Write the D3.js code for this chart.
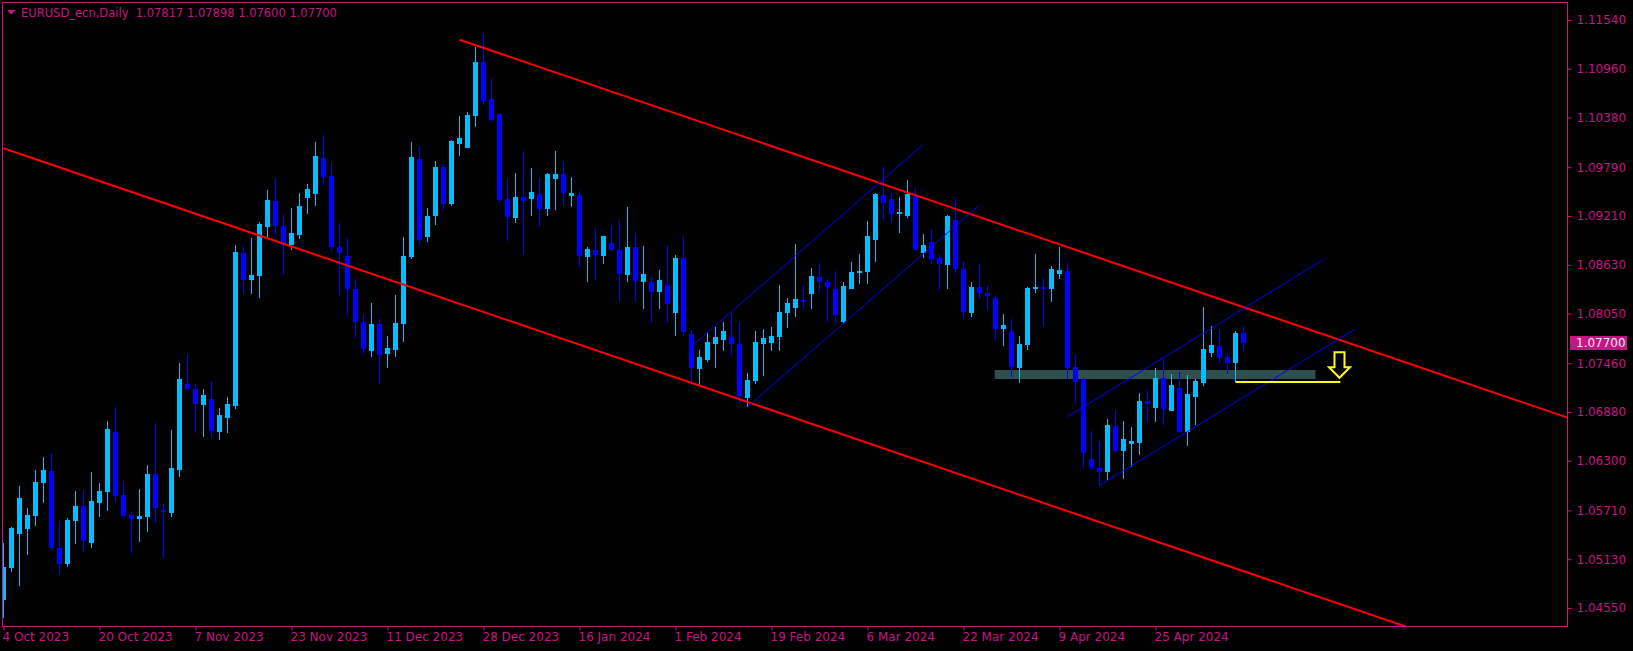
<!DOCTYPE html>
<html><head><meta charset="utf-8">
<script src="https://cdn.jsdelivr.net/npm/d3@7"></script>
<style>html,body{margin:0;padding:0;background:#000;overflow:hidden}</style>
</head><body>
<svg id="chart" width="1633" height="651"></svg>
<script>
const symbolName = "EURUSD_ecn,Daily";
const opens = [1.04644,1.05025,1.05428,1.05488,1.05643,1.06035,1.06178,1.05262,1.05072,1.05583,
1.05762,1.05321,1.05797,1.05928,1.06641,1.05893,1.05655,1.05607,1.05631,1.06142,
1.05714,1.05678,1.06190,1.07212,1.07153,1.06963,1.07034,1.06641,1.06808,1.06951,
1.08769,1.08449,1.08497,1.09079,1.09388,1.09091,1.08865,1.08984,1.09424,1.09471,
1.09899,1.09686,1.08841,1.08734,1.08342,1.07949,1.07604,1.07925,1.07568,1.07616,
1.07925,1.08722,1.09887,1.08960,1.09210,1.09792,1.09352,1.10065,1.10018,1.10399,
1.11041,1.10601,1.10422,1.09412,1.09186,1.09436,1.09412,1.09471,1.09293,1.09650,
1.09709,1.09448,1.09459,1.08722,1.08805,1.08734,1.08888,1.08805,1.08509,1.08841,
1.08425,1.08425,1.08306,1.08389,1.08056,1.08710,1.07806,1.07391,1.07498,1.07687,
1.07735,1.07771,1.07687,1.07046,1.07248,1.07687,1.07699,1.07771,1.08056,1.08116,
1.08211,1.08282,1.08485,1.08425,1.08342,1.07949,1.08342,1.08532,1.08544,1.08924,
1.09459,1.09412,1.09233,1.09210,1.09448,1.08769,1.08900,1.08710,1.08627,1.09162,
1.08580,1.08056,1.08365,1.08294,1.08235,1.07866,1.07842,1.07402,1.07676,1.08342,
1.08365,1.08342,1.08520,1.08556,1.07414,1.07272,1.06320,1.06213,1.06166,1.06713,
1.06415,1.06498,1.06510,1.07010,1.06927,1.07284,1.06891,1.07165,1.06641,1.07058,
1.07224,1.07580,1.07664,1.07533,1.07462,1.07817];
const highs = [1.05321,1.05512,1.06000,1.05738,1.06190,1.06344,1.06391,1.05583,1.05619,1.05940,
1.05940,1.06166,1.06035,1.06772,1.06939,1.06059,1.05690,1.05964,1.06250,1.06748,
1.05797,1.06665,1.07462,1.07557,1.07212,1.07153,1.07248,1.06927,1.07058,1.08865,
1.08853,1.08948,1.09138,1.09519,1.09650,1.09222,1.09305,1.09483,1.09590,1.10089,
1.10173,1.09839,1.09126,1.08948,1.08473,1.08044,1.08175,1.07997,1.07783,1.08271,
1.08960,1.10089,1.10030,1.09305,1.09864,1.09828,1.10113,1.10399,1.10446,1.11219,
1.11385,1.10839,1.10434,1.09650,1.09721,1.09982,1.09780,1.09662,1.09721,1.09982,
1.09864,1.09674,1.09507,1.08841,1.09067,1.08972,1.09091,1.09162,1.09317,1.09007,
1.08853,1.08497,1.08568,1.08865,1.08746,1.08972,1.07854,1.07616,1.07830,1.07890,
1.07949,1.08056,1.07949,1.07343,1.07842,1.07866,1.07890,1.08389,1.08235,1.08876,
1.08389,1.08591,1.08650,1.08461,1.08556,1.08425,1.08663,1.08758,1.09150,1.09483,
1.09805,1.09471,1.09436,1.09638,1.09543,1.08995,1.09055,1.08758,1.09222,1.09424,
1.08675,1.08425,1.08639,1.08389,1.08271,1.08044,1.07985,1.07783,1.08365,1.08758,
1.08473,1.08615,1.08841,1.08663,1.07557,1.07284,1.06653,1.06534,1.06796,1.06891,
1.06772,1.06701,1.07105,1.07141,1.07402,1.07521,1.07331,1.07355,1.07319,1.07272,
1.08128,1.07902,1.07866,1.07568,1.07842,1.07898];
const lows = [1.04430,1.04977,1.04811,1.05179,1.05524,1.05797,1.05238,1.04942,1.05037,1.05309,
1.05214,1.05262,1.05631,1.05702,1.05809,1.05631,1.05203,1.05333,1.05452,1.05559,
1.05155,1.05631,1.06107,1.07141,1.06629,1.06582,1.06582,1.06546,1.06629,1.06915,
1.08294,1.08282,1.08235,1.08960,1.08984,1.08509,1.08805,1.08936,1.09233,1.09329,
1.09579,1.08781,1.08271,1.08021,1.07759,1.07568,1.07533,1.07212,1.07402,1.07533,
1.07711,1.08698,1.08865,1.08900,1.09103,1.09281,1.09329,1.09923,1.10018,1.10268,
1.10530,1.10327,1.09364,1.08912,1.09126,1.08746,1.09210,1.09079,1.09210,1.09281,
1.09341,1.09317,1.08603,1.08425,1.08449,1.08639,1.08781,1.08199,1.08425,1.08199,
1.08104,1.07937,1.08104,1.07937,1.07783,1.07783,1.07248,1.07200,1.07474,1.07402,
1.07604,1.07545,1.06986,1.06939,1.07212,1.07308,1.07604,1.07604,1.07878,1.08009,
1.08104,1.08104,1.08306,1.07949,1.07937,1.07937,1.08342,1.08401,1.08401,1.08663,
1.09162,1.09126,1.09007,1.09186,1.08793,1.08710,1.08639,1.08330,1.08342,1.08532,
1.07997,1.08009,1.08223,1.08092,1.07735,1.07664,1.07296,1.07224,1.07616,1.08294,
1.07902,1.08187,1.08461,1.07272,1.06974,1.06213,1.06190,1.06011,1.06059,1.06403,
1.06083,1.06225,1.06368,1.06760,1.06760,1.06725,1.06891,1.06629,1.06475,1.06725,
1.07189,1.07533,1.07462,1.07331,1.07236,1.07600];
const closes = [1.05037,1.05500,1.05857,1.05655,1.06047,1.06190,1.05262,1.05072,1.05595,1.05762,
1.05345,1.05821,1.05940,1.06677,1.05881,1.05643,1.05607,1.05643,1.06142,1.05738,
1.05690,1.06213,1.07272,1.07153,1.06974,1.07082,1.06653,1.06844,1.06974,1.08781,
1.08449,1.08509,1.09114,1.09400,1.09091,1.08865,1.09007,1.09329,1.09531,1.09923,
1.09674,1.08841,1.08769,1.08342,1.07949,1.07628,1.07925,1.07557,1.07640,1.07937,
1.08734,1.09911,1.08924,1.09210,1.09792,1.09352,1.10101,1.10137,1.10411,1.11041,
1.10577,1.10351,1.09400,1.09198,1.09436,1.09388,1.09495,1.09293,1.09709,1.09709,
1.09483,1.09483,1.08734,1.08817,1.08746,1.08972,1.08805,1.08520,1.08841,1.08437,
1.08520,1.08306,1.08449,1.08163,1.08710,1.07830,1.07402,1.07533,1.07711,1.07771,
1.07842,1.07687,1.07070,1.07260,1.07711,1.07759,1.07783,1.08068,1.08175,1.08223,
1.08187,1.08497,1.08425,1.08365,1.08032,1.08377,1.08544,1.08556,1.08972,1.09471,
1.09364,1.09233,1.09257,1.09471,1.08805,1.08865,1.08698,1.08639,1.09210,1.08580,
1.08068,1.08365,1.08294,1.08259,1.07866,1.07914,1.07414,1.07687,1.08354,1.08365,
1.08342,1.08580,1.08568,1.07402,1.07236,1.06391,1.06225,1.06166,1.06725,1.06415,
1.06558,1.06534,1.07010,1.06974,1.07284,1.06915,1.07200,1.06641,1.07093,1.07248,
1.07628,1.07676,1.07521,1.07462,1.07818,1.07700];

const priceTicks = [1.11540,1.10960,1.10380,1.09790,1.09210,1.08630,1.08050,1.07460,1.06880,1.06300,1.05710,1.05130,1.04550];
const dateLabels = ["4 Oct 2023","20 Oct 2023","7 Nov 2023","23 Nov 2023","11 Dec 2023","28 Dec 2023","16 Jan 2024","1 Feb 2024","19 Feb 2024","6 Mar 2024","22 Mar 2024","9 Apr 2024","25 Apr 2024"];
const dateBarIndex = [0,12,24,36,48,60,72,84,96,108,120,132,144];

// drawn objects: anchors as (bar index, price)
const redLines = [
  [{i:57,p:1.11306},{i:196,p:1.06797}],
  [{i:0,p:1.10016},{i:180,p:1.04177}]
];
const blueLines = [
  [{i:86.35,p:1.07688},{i:114.9,p:1.10054}],
  [{i:93.0,p:1.06942},{i:121.9,p:1.09332}],
  [{i:132.97,p:1.06823},{i:164.9,p:1.08687}],
  [{i:137.0,p:1.06008},{i:168.9,p:1.07863}]
];
const zone = {i0:123.9, i1:164.0, pTop:1.07379, pBottom:1.07272};
const yellowLine = {i0:154, i1:167.1, p:1.07236};
const arrowMark = {i:167, p:1.0759};

const COL = "#C71585";
const svg = d3.select("#chart");
svg.append("rect").attr("width",1633).attr("height",651).attr("fill","#000");

const x = d3.scaleLinear().domain([0,155]).range([3.5,1243.5]);
const y = d3.scaleLinear().domain([1.0455,1.1154]).range([608,20]);

const defs = svg.append("defs");
defs.append("clipPath").attr("id","plot").append("rect")
  .attr("x",3).attr("y",3).attr("width",1564).attr("height",623);

const plot = svg.append("g").attr("clip-path","url(#plot)");

// zone (background)
plot.append("rect")
  .attr("x",x(zone.i0)).attr("width",x(zone.i1)-x(zone.i0))
  .attr("y",y(zone.pTop)).attr("height",y(zone.pBottom)-y(zone.pTop))
  .attr("fill","#2F4F4F");

const data = opens.map((o,i)=>({i,o,h:highs[i],l:lows[i],c:closes[i]}));
const cg = plot.append("g").attr("shape-rendering","crispEdges");
cg.selectAll(".wick").data(data).join("rect")
  .attr("x",d=>x(d.i)-0.5).attr("width",1)
  .attr("y",d=>y(d.h)).attr("height",d=>Math.max(1,y(d.l)-y(d.h)))
  .attr("fill",d=>d.c>=d.o?"#00BFFF":"#0000FF");
cg.selectAll(".body").data(data).join("rect")
  .attr("x",d=>x(d.i)-2.5).attr("width",5)
  .attr("y",d=>y(Math.max(d.o,d.c)))
  .attr("height",d=>Math.max(1,Math.abs(y(d.o)-y(d.c))))
  .attr("fill",d=>d.c>=d.o?"#00BFFF":"#0000FF");

const line = d3.line().x(d=>x(d.i)).y(d=>y(d.p));
redLines.forEach(l=>plot.append("path").attr("d",line(l)).attr("stroke","#FF0000").attr("stroke-width",2).attr("fill","none"));
blueLines.forEach(l=>plot.append("path").attr("d",line(l)).attr("stroke","#0000FF").attr("stroke-width",1).attr("fill","none"));

plot.append("line")
  .attr("x1",x(yellowLine.i0)).attr("x2",x(yellowLine.i1))
  .attr("y1",y(yellowLine.p)).attr("y2",y(yellowLine.p))
  .attr("stroke","#FFFF00").attr("stroke-width",2);

// hollow down arrow
const ax = x(arrowMark.i), ay = y(arrowMark.p);
const arrowPts = [[-5,0],[5,0],[5,15],[10.5,15],[0,25.5],[-10.5,15],[-5,15]];
plot.append("path")
  .attr("d","M"+arrowPts.map(p=>(ax+p[0])+","+(ay+p[1])).join("L")+"Z")
  .attr("fill","#000").attr("stroke","#FFFF00").attr("stroke-width",2).attr("stroke-linejoin","miter");

// frame
svg.append("rect").attr("x",2.5).attr("y",2.5).attr("width",1565).attr("height",624)
  .attr("fill","none").attr("stroke",COL).attr("stroke-width",1);

// price axis
const yAxis = d3.axisRight(y).tickValues(priceTicks).tickFormat(d3.format(".5f")).tickSize(4).tickPadding(5);
const ya = svg.append("g").attr("transform","translate(1567.5,0)").call(yAxis);
ya.select(".domain").remove();
ya.selectAll("line").attr("stroke",COL);
ya.selectAll("text").attr("fill",COL).attr("font-family","DejaVu Sans").attr("font-size","12px");

// date axis
const xAxis = d3.axisBottom(x).tickValues(dateBarIndex).tickFormat((d,k)=>dateLabels[k]).tickSize(4).tickPadding(2);
const xa = svg.append("g").attr("transform","translate(0,626.5)").call(xAxis);
xa.select(".domain").remove();
xa.selectAll("line").attr("stroke",COL);
xa.selectAll("text").attr("fill",COL).attr("font-family","DejaVu Sans").attr("font-size","12px")
  .attr("text-anchor","start").attr("x",-1.5);

// current price label
const last = data[data.length-1];
svg.append("rect").attr("x",1570).attr("y",y(last.c)-7).attr("width",57).attr("height",14).attr("fill",COL);
svg.append("text").attr("x",1576).attr("y",y(last.c)).attr("dy","0.35em")
  .attr("fill","#E8E8E8").attr("font-family","DejaVu Sans").attr("font-size","12px")
  .text(d3.format(".5f")(last.c));

// title
svg.append("path").attr("d","M7,10L15.5,10L11.25,14.5Z").attr("fill",COL);
const f = d3.format(".5f");
svg.append("text").attr("x",21).attr("y",17).attr("fill",COL)
  .attr("font-family","DejaVu Sans").attr("font-size","11.5px").style("white-space","pre")
  .text(symbolName+"  "+f(last.o)+" "+f(last.h)+" "+f(last.l)+" "+f(last.c));
</script>
</body></html>
